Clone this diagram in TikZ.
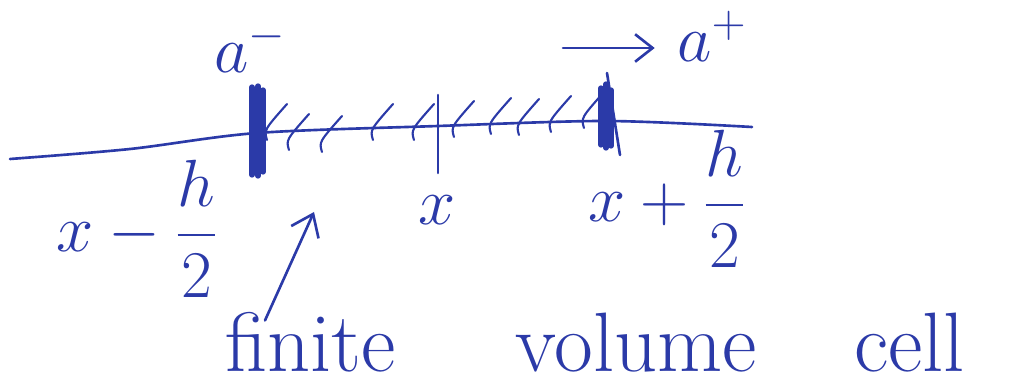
\RequirePackage{fix-cm}
\documentclass[tikz,border=0pt]{standalone}
\usepackage{amsmath}
\usetikzlibrary{arrows.meta,calc}
\definecolor{ink}{HTML}{2B3AA8}
\tikzset{
  pen/.style={draw=ink, line width=1.5pt, line cap=round, line join=round},
  facebar/.style={pen, line width=3pt},
  hatch/.style={pen, line width=1.2pt},
  barb/.style={pen, -{Straight Barb[length=4mm, width=6mm]}},
  lbl/.style={text=ink, inner sep=0pt, font=\fontsize{38}{42}\selectfont},
  notetext/.style={text=ink, inner sep=0pt, font=\fontsize{48}{52}\selectfont}
}

\begin{document}
\begin{tikzpicture}[x=0.02cm,y=-0.02cm]
  \useasboundingbox (0,0) rectangle (1015,391);
  \coordinate (lface) at (257,133);
  \coordinate (ctr) at (438,126);
  \coordinate (rface) at (607,121);
  \draw[pen] plot[smooth] coordinates {(10,159) (130,149) (lface) (ctr) (rface) (752,127)};
  % cell faces
  \foreach \bx/\btop/\bbot in {252/87/175, 258/86/176, 263/90/172}
    \draw[facebar] (\bx,\btop) -- (\bx,\bbot);
  \foreach \bx/\btop/\bbot in {601/88/145, 606/84/148, 611/90/146}
    \draw[facebar] (\bx,\btop) -- (\bx,\bbot);
  \draw[pen] (607,73) -- (620,155);
  \draw[pen] (438,95) -- (438,173);
  \foreach \hx/\hy in {267/140, 289/150, 322/152, 373/140, 414/140,
                       454/137, 491/134, 519/135, 551/132, 584/128}
    \draw[hatch] (\hx,\hy) .. controls (\hx-3,\hy-10) .. (\hx+20,\hy-36);
  % labels
  \node[lbl, anchor=base] (aminus) at (250,73) {$a^{-}$};
  \node[lbl, anchor=base] (aplus) at (712,62) {$a^{+}$};
  \coordinate (flux) at (563,48);
  \draw[pen, -{Straight Barb[length=3.5mm, width=5.5mm]}, shorten >=4.5mm]
    (flux) -- (flux -| aplus.west);
  \node[lbl, anchor=base] (xleft) at (137,252) {$x-\dfrac{h}{2}$};
  \node[lbl, anchor=base] (xmid) at (437,225) {$x$};
  \node[lbl, anchor=base] (xright) at (667,222) {$x+\dfrac{h}{2}$};
  \node[notetext, anchor=base west] (cellnote) at (225,372)
    {finite\hspace{2.4cm}volume\hspace{1.95cm}cell};
  \coordinate (tip) at (314,212);
  \draw[barb] ($(cellnote.north west)+(40,8)$) -- (tip);
\end{tikzpicture}
\end{document}
